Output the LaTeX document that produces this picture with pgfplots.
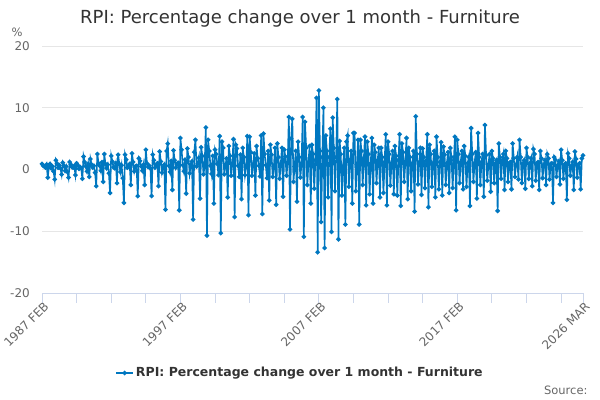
\documentclass[border=0pt]{standalone}
\usepackage{pgfplots}
\pgfplotsset{compat=1.18}
\usepackage{pgfplotstable}
\usepackage{fontspec}
\setmainfont{DejaVu Sans}
\definecolor{ons}{HTML}{0077C0}
\definecolor{gridc}{HTML}{E6E6E6}
\definecolor{axisc}{HTML}{CCD6EB}
\definecolor{tickc}{HTML}{666666}
\definecolor{ttl}{HTML}{333333}

\pgfplotstableread[row sep=\\]{
v\\
0.9\\ 0.6\\ 0.5\\ 0.3\\ 0.8\\ -1.3\\ 0.4\\ 0.9\\ 0.2\\ 0.5\\ -0.3\\
-1.6\\ 1.5\\ 1.0\\ 0.3\\ 0.7\\ 0.2\\ -0.8\\ 1.1\\ 0.6\\ -0.2\\ 0.5\\ -0.4\\
-1.3\\ 1.2\\ 0.8\\ 0.4\\ 0.3\\ 0.6\\ -0.9\\ 1.0\\ 0.7\\ 0.1\\ 0.4\\ 0.2\\
-1.5\\ 2.1\\ 1.2\\ 0.5\\ -0.3\\ 0.9\\ -1.2\\ 1.7\\ 0.8\\ 0.3\\ 0.6\\ -0.5\\
-2.7\\ 2.5\\ 1.0\\ 0.6\\ -0.2\\ 1.2\\ -2.0\\ 2.5\\ 0.9\\ 0.2\\ 0.8\\ -0.6\\
-3.8\\ 2.2\\ 1.3\\ 0.4\\ 0.2\\ 1.0\\ -2.2\\ 2.4\\ 0.9\\ -0.4\\ 0.7\\ -1.4\\
-5.4\\ 2.4\\ 1.6\\ 0.3\\ 0.6\\ 0.9\\ -2.5\\ 2.6\\ 1.2\\ -0.3\\ 0.5\\ 0.6\\
-4.3\\ 1.8\\ 1.4\\ 0.5\\ -0.2\\ 0.8\\ -2.5\\ 3.2\\ 1.0\\ 0.4\\ 0.6\\ 0.2\\
-4.3\\ 2.4\\ 1.5\\ 0.3\\ 0.7\\ 1.0\\ -2.7\\ 2.9\\ 1.3\\ -0.5\\ 0.4\\ 0.8\\
-6.5\\ 3.0\\ 4.2\\ 0.6\\ -0.4\\ 1.4\\ -3.3\\ 3.1\\ 1.5\\ 0.3\\ 0.9\\ 1.1\\
-6.6\\ 5.1\\ 3.2\\ 0.7\\ -0.3\\ 1.6\\ -3.9\\ 3.4\\ 2.0\\ -0.6\\ 0.8\\ 1.3\\
-8.1\\ 2.8\\ 4.8\\ 0.5\\ 0.9\\ 1.9\\ -4.7\\ 3.6\\ 2.2\\ -0.8\\ 0.6\\ 6.8\\
-10.7\\ 4.8\\ 3.0\\ 0.6\\ -0.7\\ 2.2\\ -5.5\\ 3.2\\ 2.5\\ 0.9\\ -0.9\\ 5.4\\
-10.3\\ 4.5\\ 3.5\\ -0.8\\ 0.6\\ 1.8\\ -4.5\\ 3.8\\ 2.2\\ -1.0\\ 1.0\\ 4.9\\
-7.7\\ 4.0\\ 3.4\\ 0.6\\ -1.2\\ 2.4\\ -4.8\\ 3.5\\ 2.0\\ -0.9\\ 0.4\\ 5.4\\
-7.4\\ 5.3\\ 2.8\\ -1.0\\ 0.8\\ 2.6\\ -4.2\\ 3.8\\ 1.8\\ 0.6\\ -1.1\\ 5.5\\
-7.2\\ 5.8\\ 2.5\\ 0.7\\ -1.4\\ 3.0\\ -5.0\\ 4.0\\ 2.4\\ -1.2\\ 0.5\\ 3.5\\
-5.7\\ 4.2\\ 2.0\\ -1.5\\ 0.9\\ 3.5\\ -4.4\\ 3.2\\ 2.1\\ -1.0\\ 1.2\\ 8.5\\
-9.7\\ 5.0\\ 8.2\\ -2.0\\ 0.5\\ 3.0\\ -5.2\\ 4.5\\ 2.0\\ -1.3\\ 1.0\\ 8.5\\
-10.9\\ 7.7\\ 3.5\\ -2.5\\ 1.2\\ 3.8\\ -5.5\\ 4.0\\ 2.5\\ -3.1\\ 1.5\\ 11.6\\
-13.4\\ 12.8\\ 3.0\\ -8.5\\ 2.0\\ 10.0\\ -12.7\\ 5.5\\ 3.0\\ -4.5\\ 2.0\\ 6.6\\
-10.1\\ 8.4\\ 3.5\\ -3.5\\ 2.0\\ 11.4\\ -11.3\\ 4.6\\ 2.5\\ -4.2\\ 0.5\\ 3.5\\
-8.9\\ 4.5\\ 5.5\\ -2.8\\ 1.5\\ 3.0\\ -5.5\\ 5.9\\ 5.9\\ -3.5\\ 0.8\\ 4.8\\
-8.9\\ 4.8\\ 3.0\\ -2.5\\ 1.8\\ 5.3\\ -5.8\\ 4.5\\ 2.5\\ -4.0\\ 1.0\\ 5.1\\
-5.5\\ 4.0\\ 2.8\\ -2.2\\ 1.5\\ 3.5\\ -4.5\\ 3.5\\ 2.0\\ -3.8\\ 1.2\\ 5.7\\
-5.8\\ 4.5\\ 2.5\\ -2.6\\ 1.0\\ 3.0\\ -4.0\\ 3.8\\ 2.2\\ -4.2\\ 1.5\\ 5.7\\
-5.9\\ 4.2\\ 2.8\\ -2.0\\ 1.3\\ 5.1\\ -4.8\\ 3.5\\ 2.0\\ -3.5\\ 1.0\\ 3.0\\
-6.8\\ 8.6\\ 2.5\\ -2.4\\ 1.2\\ 3.5\\ -4.1\\ 3.4\\ 2.0\\ -3.0\\ 1.4\\ 5.7\\
-6.1\\ 4.0\\ 2.5\\ -2.8\\ 1.0\\ 3.0\\ -4.5\\ 5.3\\ 2.0\\ -3.2\\ 1.2\\ 4.4\\
-4.2\\ 3.7\\ 2.4\\ -2.5\\ 1.0\\ 2.8\\ -3.8\\ 3.5\\ 2.0\\ -3.0\\ 1.5\\ 5.3\\
-6.6\\ 4.8\\ 2.5\\ -2.2\\ 1.2\\ 3.0\\ -3.2\\ 3.8\\ 2.2\\ -2.8\\ 1.0\\ 2.0\\
-5.9\\ 6.7\\ 2.5\\ -2.0\\ 1.0\\ 2.8\\ -4.7\\ 5.9\\ 2.0\\ -2.5\\ 1.2\\ 2.5\\
-4.4\\ 7.2\\ 2.3\\ -1.8\\ 0.8\\ 2.5\\ -3.6\\ 3.0\\ 1.8\\ -2.2\\ 1.0\\ 1.5\\
-6.7\\ 4.2\\ 2.0\\ -1.5\\ 1.5\\ 2.5\\ -3.3\\ 3.0\\ 1.8\\ -2.0\\ 1.0\\ 1.2\\
-3.2\\ 4.2\\ 1.8\\ -1.2\\ 0.8\\ 2.0\\ -1.6\\ 4.8\\ 2.0\\ -2.2\\ 1.0\\ 1.5\\
-3.1\\ 3.5\\ 2.0\\ -1.5\\ 1.0\\ 1.8\\ -2.7\\ 3.3\\ 2.5\\ -1.8\\ 1.0\\ 1.2\\
-3.3\\ 3.0\\ 1.8\\ -1.4\\ 0.8\\ 1.5\\ -2.5\\ 2.5\\ 1.8\\ -1.6\\ 0.9\\ 1.0\\
-5.4\\ 2.0\\ 1.6\\ -1.2\\ 0.7\\ 1.3\\ -2.4\\ 3.2\\ 1.5\\ -1.5\\ 0.8\\ 1.0\\
-4.9\\ 2.6\\ 1.8\\ -1.0\\ 0.6\\ 1.2\\ -3.3\\ 2.9\\ 1.7\\ -1.3\\ 0.8\\ 1.0\\
-3.2\\ 1.8\\ 2.3\\
}\data

\begin{document}
\begin{tikzpicture}
\begin{axis}[
  width=541pt, height=247pt, scale only axis,
  xmin=0, xmax=469, ymin=-20, ymax=20,
  axis x line*=bottom, axis y line*=left,
  x axis line style={draw=axisc, line width=0.8pt},
  y axis line style={draw=none},
  xtick={0,120,240,360,469},
  xticklabels={1987 FEB,1997 FEB,2007 FEB,2017 FEB,2026 MAR},
  extra x ticks={30,60,90,150,180,210,270,300,330,390,420,450},
  extra x tick labels={},
  extra x tick style={xtick align=outside},
  ytick={-20,-10,0,10,20},
  yticklabels={-20,-10,0,10,20},
  xtick align=outside,
  major tick length=10pt,
  xtick style={draw=axisc, line width=0.8pt},
  ytick style={draw=none},
  ymajorgrids, grid style={draw=gridc, line width=0.8pt},
  ticklabel style={font=\fontsize{12}{14}\selectfont, text=tickc},
  xticklabel style={rotate=45, anchor=east, inner sep=1pt, xshift=3.5pt, yshift=-4pt},
  yticklabel style={inner sep=2pt, xshift=-10pt},
  legend style={at={(0.47689,-0.32389)}, anchor=center, draw=none, fill=none,
    font=\bfseries\fontsize{12.5}{15}\selectfont, text=ttl},
  legend cell align=left,
  clip=false,
]
\addplot[color=ons, line width=1.6pt, mark=*, mark size=1.4pt,
  mark options={fill=ons, draw=ons}] table[x expr=\coordindex, y=v] {\data};
\addlegendentry{RPI: Percentage change over 1 month - Furniture}
\coordinate (TL) at (rel axis cs:-0.07763,1.18623);
\coordinate (BR) at (rel axis cs:1.03142,-0.43320);
\node[anchor=center, text=ttl, font=\fontsize{18}{21}\selectfont] at (rel axis cs:0.47689,1.10931) {RPI: Percentage change over 1 month - Furniture};
\node[anchor=west, text=tickc, font=\fontsize{11.5}{13}\selectfont] at (rel axis cs:-0.06285,1.05668) {\%};
\node[anchor=east, text=tickc, font=\fontsize{11.5}{13}\selectfont] at (rel axis cs:1.01479,-0.39271) {Source:};
\end{axis}
\pgfresetboundingbox
\path[use as bounding box] (TL) rectangle (BR);
\end{tikzpicture}
\end{document}
